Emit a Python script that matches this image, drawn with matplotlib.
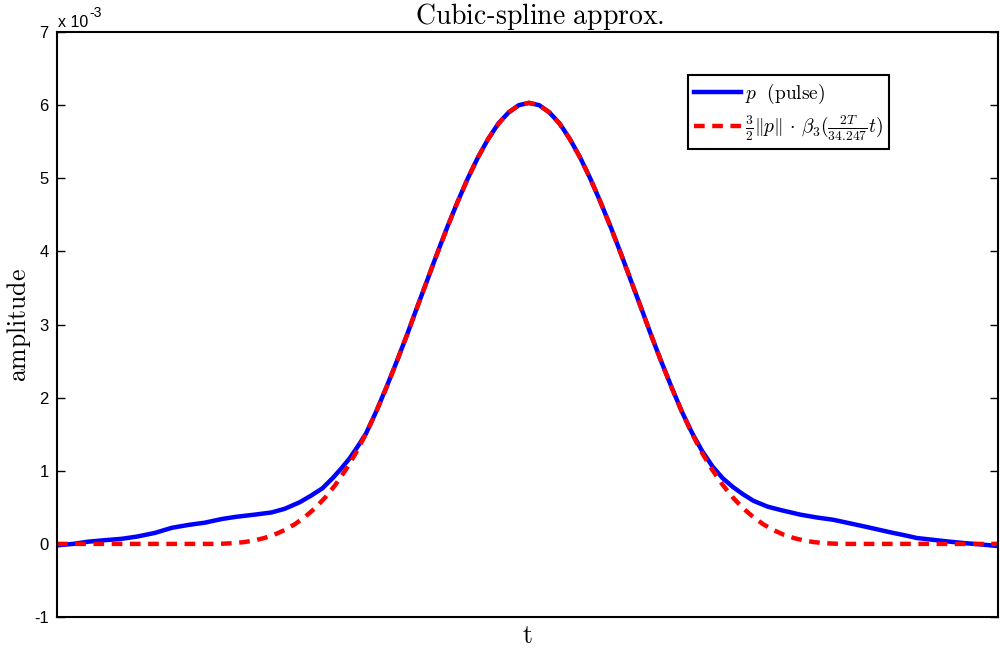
import numpy as np
import matplotlib
matplotlib.use("Agg")
import matplotlib.pyplot as plt

# pulse p (t in arbitrary units, amplitude in 1e-3)
t_pulse = [0.0, 1.7, 3.3, 5.0, 6.9, 8.5, 10.4, 12.2, 14.0, 15.7, 17.5, 19.0,
           21.0, 22.8, 24.2, 25.8, 27.0, 28.2, 29.3, 30.2, 31.1, 32.0, 32.84,
           33.92, 35.00, 36.09, 37.17, 38.25, 39.33, 40.42, 41.50, 42.58, 43.66,
           44.75, 45.83, 46.91, 47.99, 49.08, 50.16, 51.24, 52.33, 53.41, 54.49,
           55.57, 56.66, 57.74, 58.82, 59.90, 60.99, 62.07, 63.15, 64.23, 65.32,
           66.40, 67.48, 68.56, 69.65, 70.73, 71.81, 72.89, 74.0, 75.5, 77.0,
           79.0, 80.8, 82.5, 84.3, 86.1, 88.5, 90.0, 91.4, 94.9, 96.5, 98.4, 100.0]
p_pulse = [-0.02, 0.00, 0.03, 0.05, 0.07, 0.10, 0.15, 0.22, 0.26, 0.29, 0.34, 0.37,
           0.40, 0.43, 0.48, 0.57, 0.66, 0.76, 0.90, 1.03, 1.17, 1.34, 1.51,
           1.81, 2.14, 2.49, 2.85, 3.23, 3.60, 3.98, 4.34, 4.68, 5.00,
           5.29, 5.54, 5.75, 5.90, 6.00, 6.03, 6.00, 5.90, 5.75, 5.54,
           5.29, 5.00, 4.68, 4.34, 3.98, 3.60, 3.23, 2.85, 2.49, 2.14,
           1.81, 1.52, 1.27, 1.06, 0.90, 0.78, 0.68, 0.59, 0.51, 0.46,
           0.40, 0.36, 0.33, 0.28, 0.23, 0.16, 0.12, 0.08, 0.03, 0.01, -0.01, -0.03]

# scaled cubic B-spline approximation
t_spline = [0.0, 15.52, 16.60, 17.68, 18.77, 19.85, 20.93, 22.01, 23.10, 24.18,
            25.26, 26.34, 27.43, 28.51, 29.59, 30.67, 31.76, 32.84, 33.92, 35.00,
            36.09, 37.17, 38.25, 39.33, 40.42, 41.50, 42.58, 43.66, 44.75, 45.83,
            46.91, 47.99, 49.08, 50.16, 51.24, 52.33, 53.41, 54.49, 55.57, 56.66,
            57.74, 58.82, 59.90, 60.99, 62.07, 63.15, 64.23, 65.32, 66.40, 67.48,
            68.56, 69.65, 70.73, 71.81, 72.89, 73.98, 75.06, 76.14, 77.22, 78.31,
            79.39, 80.47, 81.55, 82.64, 83.72, 84.80, 100.0]
p_spline = [0.0, 0.0, 0.000, 0.003, 0.010, 0.024, 0.046, 0.080, 0.126, 0.189,
            0.268, 0.368, 0.490, 0.636, 0.809, 1.010, 1.243, 1.508, 1.808, 2.136,
            2.486, 2.852, 3.226, 3.603, 3.975, 4.336, 4.680, 4.999, 5.288, 5.538,
            5.745, 5.901, 5.999, 6.033, 5.999, 5.901, 5.745, 5.538, 5.288, 4.999,
            4.680, 4.336, 3.975, 3.603, 3.226, 2.852, 2.486, 2.136, 1.808, 1.508,
            1.243, 1.010, 0.809, 0.636, 0.490, 0.368, 0.268, 0.189, 0.126, 0.080,
            0.046, 0.024, 0.010, 0.003, 0.000, 0.0, 0.0]

y_ticks = [-1, 0, 1, 2, 3, 4, 5, 6, 7]

plt.rcParams['mathtext.fontset'] = 'cm'
plt.rcParams['font.family'] = ['Liberation Sans', 'DejaVu Sans']

fig = plt.figure( figsize=(10, 6.51), dpi=100 )
ax = fig.add_axes( [0.057, 0.0522, 0.941, 0.8986] )

ax.plot( t_pulse, p_pulse, '-', color='#0000ff', lw=3.2,
         label=r'$p\ \ (\mathrm{pulse})$' )
ax.plot( t_spline, p_spline, '--', color='#ff0000', lw=3.2, dashes=(2.4, 1.7),
         label=r'$\frac{3}{2}\|p\|\,\cdot\,\beta_3(\frac{2T}{34.247}t)$' )

ax.set_xlim( 0, 100 )
ax.set_ylim( -1, 7 )
ax.set_yticks( y_ticks )
ax.set_yticklabels( [str( v ) for v in y_ticks], fontsize=12 )
ax.set_xticks( [] )
ax.tick_params( axis='y', direction='in', length=6, width=1, right=True, pad=6 )
for s in ax.spines.values() :
    s.set_linewidth( 1.5 )

# exponent label, MATLAB style
base = ax.text( 0.001, 1.004, 'x 10', transform=ax.transAxes,
                fontsize=11.5, ha='left', va='bottom' )
ax.annotate( '-3', xy=(1, 1), xycoords=base, xytext=(1, 1),
             textcoords='offset points', fontsize=10, ha='left', va='center' )

ax.set_title( r'$\mathrm{Cubic}$-$\mathrm{spline\ approx.}$', fontsize=20,
              pad=3, x=0.5125 )
ax.set_ylabel( r'$\mathrm{amplitude}$', fontsize=18.5, labelpad=0.5 )
ax.set_xlabel( r'$\mathrm{t}$', fontsize=18.5, labelpad=5 )

leg = ax.legend( loc='upper left', bbox_to_anchor=(0.6706, 0.9265), fontsize=14,
                 fancybox=False, framealpha=1, edgecolor='black',
                 handlelength=2.4, borderpad=0.33, labelspacing=0.4,
                 handletextpad=0.2, borderaxespad=0 )
leg.get_frame().set_linewidth( 1.5 )

fig.savefig( 'out.png', dpi=100 )
